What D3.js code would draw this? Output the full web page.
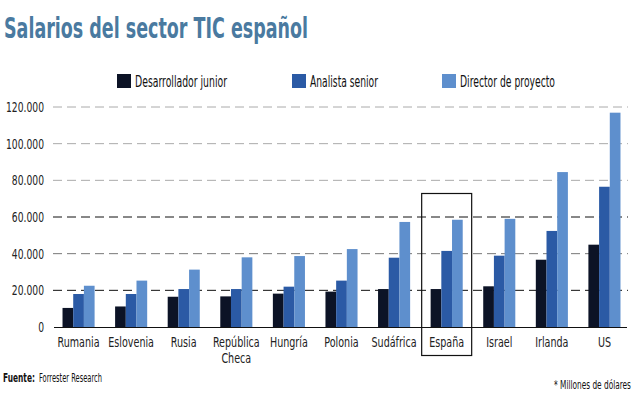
<!DOCTYPE html>
<html>
<head>
<meta charset="utf-8">
<script src="https://cdn.jsdelivr.net/npm/d3@7.9.0/dist/d3.min.js"></script>
<style>
  html, body { margin: 0; padding: 0; background: #fff; }
  svg { display: block; font-family: "Liberation Sans Narrow", "DejaVu Sans Condensed", sans-serif; }
</style>
</head>
<body>
<svg id="chart" width="640" height="394"></svg>
<script>
const countries = ["Rumania", "Eslovenia", "Rusia", "República Checa", "Hungría", "Polonia",
  "Sudáfrica", "España", "Israel", "Irlanda", "US"];
const seriesNames = ["Desarrollador junior", "Analista senior", "Director de proyecto"];
const junior = [10400, 11200, 16500, 16700, 18200, 19300, 20700, 20700, 22200, 36700, 44900];
const senior = [18000, 18000, 20700, 20700, 22000, 25300, 37800, 41500, 38900, 52400, 76500];
const director = [22500, 25300, 31300, 38000, 38700, 42500, 57300, 58500, 59000, 84500, 116900];
const yTicks = [0, 20000, 40000, 60000, 80000, 100000, 120000];
const highlighted = "España";

const colors = ["#0c1326", "#2b5aa5", "#5e8fcd"];
const series = [junior, senior, director];

const svg = d3.select("#chart");

const x = d3.scaleBand().domain(countries).range([52, 631]).paddingInner(0.39).paddingOuter(0.2);
const xs = d3.scaleBand().domain(d3.range(3)).range([0, x.bandwidth()]);
const y = d3.scaleLinear().domain([0, 120000]).range([327, 107]);

const fmt = d => d3.format(",")(d).replace(/,/g, ".");

// squeeze text horizontally by a factor (the original uses a condensed face)
function squeeze(sel, f) {
  sel.each(function () {
    const w = this.getComputedTextLength();
    d3.select(this).attr("textLength", w * f).attr("lengthAdjust", "spacingAndGlyphs");
  });
}

// squeezed text placed with a transform, so its box stays honest
function squeezedText(px, py, width, size, txt, bold) {
  const t = svg.append("text")
    .attr("font-size", size).attr("fill", "#111")
    .attr("font-weight", bold ? "bold" : null)
    .text(txt);
  const f = width / t.node().getComputedTextLength();
  t.attr("transform", `translate(${px},${py}) scale(${f},1)`);
  return t;
}

// title
svg.append("text")
  .attr("x", 4).attr("y", 38)
  .attr("font-size", 28).attr("font-weight", "bold")
  .attr("fill", "#4a7aa0")
  .attr("textLength", 304).attr("lengthAdjust", "spacingAndGlyphs")
  .text("Salarios del sector TIC español");

// legend
const legendX = [117, 292, 442];
const legendW = [92, 68, 95];
seriesNames.forEach((name, i) => {
  svg.append("rect")
    .attr("x", legendX[i]).attr("y", 74)
    .attr("width", 14).attr("height", 14)
    .attr("fill", colors[i]);
  svg.append("text")
    .attr("x", legendX[i] + 18).attr("y", 87)
    .attr("font-size", 15).attr("fill", "#111")
    .attr("textLength", legendW[i]).attr("lengthAdjust", "spacingAndGlyphs")
    .text(name);
});

// grid lines
const gridColor = d => (d === 20000 || d === 60000) ? "#111" : (d === 40000 ? "#777" : "#aaa");
svg.append("g").selectAll("line")
  .data(yTicks.filter(d => d > 0))
  .join("line")
  .attr("x1", 53).attr("x2", 628)
  .attr("y1", d => y(d)).attr("y2", d => y(d))
  .attr("stroke", gridColor)
  .attr("stroke-width", 1)
  .attr("stroke-dasharray", "9,5");

// y tick labels
const yLabels = svg.append("g").selectAll("text")
  .data(yTicks)
  .join("text")
  .attr("x", 44).attr("y", d => y(d) + 5)
  .attr("text-anchor", "end")
  .attr("font-size", 14).attr("fill", "#222")
  .text(d => fmt(d));
const wTick = yLabels.filter(d => d === 120000).node().getComputedTextLength();
squeeze(yLabels, 38 / wTick);

// bars
const groups = svg.append("g").selectAll("g")
  .data(countries)
  .join("g")
  .attr("transform", d => `translate(${x(d)},0)`);

groups.selectAll("rect")
  .data((d, i) => series.map((s, k) => ({ k, v: s[i] })))
  .join("rect")
  .attr("x", d => xs(d.k))
  .attr("width", xs.bandwidth())
  .attr("y", d => y(d.v))
  .attr("height", d => y(0) - y(d.v))
  .attr("fill", d => colors[d.k]);

// baseline
svg.append("line")
  .attr("x1", 54).attr("x2", 627)
  .attr("y1", y(0) + 0.5).attr("y2", y(0) + 0.5)
  .attr("stroke", "#111").attr("stroke-width", 1.2);

// country labels
const cLabels = svg.append("g").selectAll("text")
  .data(countries)
  .join("text")
  .attr("y", 347)
  .attr("text-anchor", "middle")
  .attr("font-size", 14).attr("fill", "#222");
cLabels.each(function (d) {
  const parts = d === "República Checa" ? ["República", "Checa"] : [d];
  parts.forEach((p, i) => {
    d3.select(this).append("tspan")
      .attr("x", x(d) + x.bandwidth() / 2)
      .attr("y", 347 + i * 16)
      .text(p);
  });
});
const cTspans = cLabels.selectAll("tspan");
const wRum = cTspans.filter(function () { return this.textContent === "Rumania"; }).node().getComputedTextLength();
squeeze(cTspans, 42 / wRum);

// highlight box
const hx = x(highlighted) + x.bandwidth() / 2;
svg.append("rect")
  .attr("x", hx - 25).attr("y", 193.5)
  .attr("width", 50).attr("height", 162)
  .attr("fill", "none").attr("stroke", "#111").attr("stroke-width", 1.2);

// footer
squeezedText(3, 382, 32, 12, "Fuente:", true);
squeezedText(39, 382, 63, 12, "Forrester Research", false);
squeezedText(554, 389, 77, 12, "* Millones de dólares", false);
</script>
</body>
</html>
